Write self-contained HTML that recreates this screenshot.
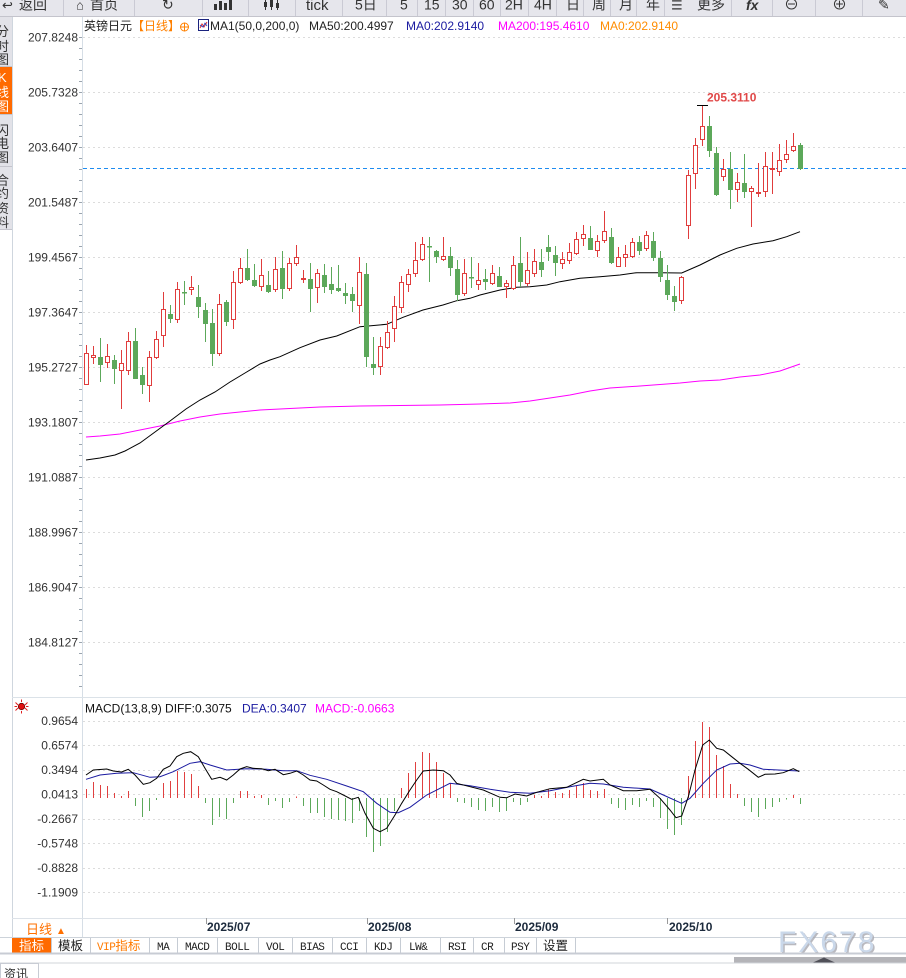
<!DOCTYPE html>
<html><head><meta charset="utf-8">
<style>
html,body{margin:0;padding:0;background:#fff;}
body{width:906px;height:978px;overflow:hidden;}
svg{display:block;font-family:"Liberation Sans","Noto Sans CJK SC",sans-serif;}
.mono{font-family:"Liberation Mono","Noto Sans CJK SC",monospace;}
</style></head><body>
<svg width="906" height="978" viewBox="0 0 906 978" xmlns="http://www.w3.org/2000/svg">
<defs>
<pattern id="tk" patternUnits="userSpaceOnUse" x="0" y="37" width="3" height="11"><rect x="0" y="0" width="3" height="1" fill="#9aa4ae"/></pattern>
</defs>
<!-- toolbar -->
<rect x="0" y="0" width="906" height="16" fill="#e6e6ec"/>
<line x1="0" y1="16.5" x2="906" y2="16.5" stroke="#c4c4cc"/>
<g stroke="#cacad4">
<path d="M63.5 0V16M134.5 0V16M202.5 0V16M248.5 0V16M295.5 0V16M342.5 0V16M386.5 0V16M417.5 0V16M445.5 0V16M473.5 0V16M500.5 0V16M528.5 0V16M556.5 0V16M583.5 0V16M610.5 0V16M636.5 0V16M664.5 0V16M731.5 0V16M772.5 0V16M815.5 0V16M862.5 0V16"/>
</g>
<g fill="#333" font-size="14">
<text x="2" y="9.5" font-size="13">↩</text>
<text x="19" y="9.5">返回</text>
<text x="76" y="9.5" font-size="13">⌂</text>
<text x="90" y="9.5">首页</text>
<text x="162" y="9.5" font-size="14">↻</text>
<text x="306" y="10" font-size="15">tick</text>
<text x="355" y="9.5">5日</text>
<text x="400" y="9.5">5</text>
<text x="424" y="9.5">15</text>
<text x="452" y="9.5">30</text>
<text x="479" y="9.5">60</text>
<text x="505" y="9.5">2H</text>
<text x="534" y="9.5">4H</text>
<text x="566" y="9.5">日</text>
<text x="592" y="9.5">周</text>
<text x="619" y="9.5">月</text>
<text x="646" y="9.5">年</text>
<text x="671" y="9.5" font-size="13">☰</text>
<text x="697" y="9.5">更多</text>
<text x="746" y="10" font-weight="bold" font-style="italic">fx</text>
<text x="784" y="9.5" font-size="15">⊖</text>
<text x="832" y="9.5" font-size="15">⊕</text>
<text x="878" y="9.5" font-size="14">✎</text>
</g>
<g fill="#333">
<rect x="214" y="4" width="3" height="6"/><rect x="219" y="1" width="3" height="9"/><rect x="224" y="3" width="3" height="7"/><rect x="229" y="0" width="3" height="10"/>
<rect x="264" y="2" width="3" height="5"/><rect x="270" y="0" width="3" height="7"/><rect x="276" y="3" width="3" height="5"/>
<path d="M265.5 0V10M271.5 0V10M277.5 0V10" stroke="#333"/>
</g>

<!-- sidebar -->
<rect x="0" y="17" width="12" height="213" fill="#e2e2e8"/>
<rect x="0" y="67" width="12" height="47" fill="#ff6a00"/>
<path d="M0 66.5H12M0 114.5H12M0 166.5H12M0 229.5H12" stroke="#c4c4cc"/>
<line x1="12.5" y1="17" x2="12.5" y2="937" stroke="#cfd6de"/>
<g font-size="13" fill="#333">
<text x="-4" y="36">分</text><text x="-4" y="51">时</text><text x="-4" y="64">图</text>
<text x="-4" y="135">闪</text><text x="-4" y="148">电</text><text x="-4" y="162">图</text>
<text x="-4" y="185">合</text><text x="-4" y="198">约</text><text x="-4" y="213">资</text><text x="-4" y="227">料</text>
</g>
<g font-size="13" fill="#fff">
<text x="-2" y="82">K</text><text x="-4" y="97">线</text><text x="-4" y="111">图</text>
</g>

<!-- axis line -->
<line x1="82.5" y1="17" x2="82.5" y2="937" stroke="#d6dee6"/>
<rect x="79" y="37" width="3" height="655" fill="url(#tk)"/>

<!-- grid main -->
<g stroke="#dcdcdc" stroke-dasharray="2,3">
<path d="M83 37.5H906M83 92.5H906M83 147.5H906M83 202.5H906M83 257.5H906M83 312.5H906M83 367.5H906M83 422.5H906M83 477.5H906M83 532.5H906M83 587.5H906M83 642.5H906"/>
</g>
<g font-size="12" fill="#333" text-anchor="end">
<text x="78" y="41.5">207.8248</text>
<text x="78" y="96.5">205.7328</text>
<text x="78" y="151.5">203.6407</text>
<text x="78" y="206.5">201.5487</text>
<text x="78" y="261.5">199.4567</text>
<text x="78" y="316.5">197.3647</text>
<text x="78" y="371.5">195.2727</text>
<text x="78" y="426.5">193.1807</text>
<text x="78" y="481.5">191.0887</text>
<text x="78" y="536.5">188.9967</text>
<text x="78" y="591.5">186.9047</text>
<text x="78" y="646.5">184.8127</text>
</g>

<!-- legend -->
<g font-size="12">
<text x="84" y="30" fill="#222">英镑日元</text>
<text x="132" y="30" fill="#ff8000">【日线】</text>
<text x="210" y="30" fill="#222">MA1(50,0,200,0)</text>
<text x="309" y="30" fill="#222">MA50:200.4997</text>
<text x="406" y="30" fill="#1a1aa0">MA0:202.9140</text>
<text x="498" y="30" fill="#ff00ff">MA200:195.4610</text>
<text x="600" y="30" fill="#ff8c00">MA0:202.9140</text>
</g>
<circle cx="184.5" cy="27" r="4" fill="none" stroke="#ff8000"/>
<path d="M180 27H189M184.5 22.5V31.5" stroke="#ff8000"/>
<rect x="198.5" y="19.5" width="10" height="11" fill="#fff" stroke="#1a237e"/>
<polyline points="200,28 202,24 204,27 207,22" fill="none" stroke="#e03030"/>
<polyline points="200,25 203,27 205,23 207,26" fill="none" stroke="#2040c0" stroke-width="0.8"/>

<!-- current price dashed line -->
<line x1="83" y1="168.5" x2="906" y2="168.5" stroke="#1e8cf0" stroke-dasharray="4,3"/>

<!-- MA200 -->
<polyline fill="none" stroke="#ff00ff" stroke-width="1" points="86,437 100,436 120,434 140,430 160,426 180,421 200,417 220,414 240,412 260,410 280,409 320,407 360,406 400,405.5 440,405 480,404 510,403 530,401 550,398 570,395 590,391 610,388 640,386 680,383 700,381 720,380 740,377 760,375 780,371 800,364"/>
<!-- MA50 -->
<polyline fill="none" stroke="#000" stroke-width="1" points="86,460 100,458 115,455 125,451 140,443 155,432 170,421 186,409 200,400 215,392 230,382 245,373 260,364 270,360 280,356.7 300,347.7 320,340 336.7,336 360,326.7 386.7,324.3 403,317.3 423,310 443,305 456.7,300.7 470,298.3 480,295 500,290 516.7,287.3 530,286.7 546.7,285 560,281.7 580,278.3 600,276.7 620,275 636.7,272.7 660,272.7 681.7,273 700,265 720,255 736.7,248.3 753,244 773,240.7 786.7,236.7 800,231.7"/>

<!-- candles: red wicks -->
<path fill="none" stroke="#e03c3c" d="M86.5 345V385M93.5 346V364M107.5 344V368M121.5 350V409M128.5 332V375M149.5 351V402M156.5 331V359M163.5 292V347M177.5 282V323M191.5 276V295M219.5 294V356M233.5 271V329M240.5 258V284M261.5 259V291M275.5 257V292M289.5 258V291M296.5 245V266M303.5 270V283M317.5 269V303M359.5 257V324M380.5 337V375M387.5 321V349M394.5 296V342M401.5 276V313M408.5 269V292M415.5 242V277M422.5 237V261M443.5 237V261M464.5 259V296M478.5 263V290M492.5 265V285M506.5 280V298M513.5 256V290M527.5 252V286M534.5 249V277M562.5 252V269M569.5 243V264M576.5 232V255M583.5 225V246M597.5 235V257M604.5 211V243M618.5 247V267M625.5 245V267M632.5 238V258M646.5 231V251M681.5 276V304M688.5 170V239M695.5 138V189M702.5 105V146M723.5 159V181M737.5 173V202M751.5 186V227M758.5 163V197M765.5 152V197M772.5 152V194M779.5 144V176M786.5 140V163M793.5 133V152"/>
<g fill="#fff" stroke="#e03c3c" stroke-width="1">
<rect x="84.5" y="353.5" width="4" height="31"/>
<rect x="91.5" y="355.5" width="4" height="2"/>
<rect x="105.5" y="356.5" width="4" height="6"/>
<rect x="119.5" y="363.5" width="4" height="7"/>
<rect x="126.5" y="341.5" width="4" height="29"/>
<rect x="147.5" y="357.5" width="4" height="28"/>
<rect x="154.5" y="339.5" width="4" height="18"/>
<rect x="161.5" y="309.5" width="4" height="26"/>
<rect x="175.5" y="289.5" width="4" height="30"/>
<rect x="189.5" y="287.5" width="4" height="2"/>
<rect x="217.5" y="304.5" width="4" height="49"/>
<rect x="231.5" y="282.5" width="4" height="37"/>
<rect x="238.5" y="268.5" width="4" height="14"/>
<rect x="259.5" y="275.5" width="4" height="11"/>
<rect x="273.5" y="269.5" width="4" height="20"/>
<rect x="287.5" y="263.5" width="4" height="25"/>
<rect x="294.5" y="257.5" width="4" height="6"/>
<rect x="301.5" y="278.5" width="4" height="1"/>
<rect x="315.5" y="273.5" width="4" height="14"/>
<rect x="357.5" y="272.5" width="4" height="33"/>
<rect x="378.5" y="346.5" width="4" height="20"/>
<rect x="385.5" y="332.5" width="4" height="15"/>
<rect x="392.5" y="306.5" width="4" height="22"/>
<rect x="399.5" y="282.5" width="4" height="25"/>
<rect x="406.5" y="274.5" width="4" height="10"/>
<rect x="413.5" y="260.5" width="4" height="13"/>
<rect x="420.5" y="244.5" width="4" height="15"/>
<rect x="441.5" y="256.5" width="4" height="3"/>
<rect x="462.5" y="273.5" width="4" height="20"/>
<rect x="476.5" y="280.5" width="4" height="4"/>
<rect x="490.5" y="273.5" width="4" height="10"/>
<rect x="504.5" y="283.5" width="4" height="3"/>
<rect x="511.5" y="265.5" width="4" height="23"/>
<rect x="525.5" y="270.5" width="4" height="13"/>
<rect x="532.5" y="261.5" width="4" height="12"/>
<rect x="560.5" y="259.5" width="4" height="4"/>
<rect x="567.5" y="252.5" width="4" height="8"/>
<rect x="574.5" y="239.5" width="4" height="14"/>
<rect x="581.5" y="234.5" width="4" height="4"/>
<rect x="595.5" y="241.5" width="4" height="9"/>
<rect x="602.5" y="231.5" width="4" height="9"/>
<rect x="616.5" y="257.5" width="4" height="9"/>
<rect x="623.5" y="254.5" width="4" height="3"/>
<rect x="630.5" y="242.5" width="4" height="14"/>
<rect x="644.5" y="235.5" width="4" height="13"/>
<rect x="679.5" y="277.5" width="4" height="23"/>
<rect x="686.5" y="175.5" width="4" height="50"/>
<rect x="693.5" y="145.5" width="4" height="28"/>
<rect x="700.5" y="126.5" width="4" height="13"/>
<rect x="721.5" y="169.5" width="4" height="7"/>
<rect x="735.5" y="182.5" width="4" height="7"/>
<rect x="749.5" y="188.5" width="4" height="3"/>
<rect x="756.5" y="192.5" width="4" height="1"/>
<rect x="763.5" y="166.5" width="4" height="25"/>
<rect x="770.5" y="168.5" width="4" height="1"/>
<rect x="777.5" y="160.5" width="4" height="11"/>
<rect x="784.5" y="154.5" width="4" height="5"/>
<rect x="791.5" y="146.5" width="4" height="4"/>
</g>
<!-- green candles -->
<path fill="none" stroke="#5ca85a" d="M100.5 338V382M114.5 355V384M135.5 328V379M142.5 367V394M170.5 305V323M184.5 281V305M198.5 285V318M205.5 303V342M212.5 309V366M226.5 300V326M247.5 249V281M254.5 264V287M268.5 271V293M282.5 251V299M310.5 263V312M324.5 264V293M331.5 267V294M338.5 265V292M345.5 283V304M352.5 287V312M366.5 263V367M373.5 337V375M429.5 237V282M436.5 250V263M450.5 247V276M457.5 260V301M471.5 257V288M485.5 269V290M499.5 267V287M520.5 237V287M541.5 249V277M548.5 235V261M555.5 246V276M590.5 226V250M611.5 228V264M639.5 236V255M653.5 232V261M660.5 251V282M667.5 265V300M674.5 286V311M709.5 116V157M716.5 147V196M730.5 152V209M744.5 154V198M800.5 143V170"/>
<g fill="#5ca85a">
<rect x="98" y="357" width="5" height="8"/>
<rect x="112" y="360" width="5" height="9"/>
<rect x="133" y="341" width="5" height="38"/>
<rect x="140" y="375" width="5" height="10"/>
<rect x="168" y="314" width="5" height="5"/>
<rect x="182" y="292" width="5" height="1.5"/>
<rect x="196" y="297" width="5" height="10"/>
<rect x="203" y="310" width="5" height="14"/>
<rect x="210" y="323" width="5" height="31"/>
<rect x="224" y="302" width="5" height="20"/>
<rect x="245" y="268" width="5" height="12"/>
<rect x="252" y="280" width="5" height="6"/>
<rect x="266" y="285" width="5" height="7"/>
<rect x="280" y="268" width="5" height="21"/>
<rect x="308" y="279" width="5" height="10"/>
<rect x="322" y="275" width="5" height="12"/>
<rect x="329" y="284" width="5" height="6"/>
<rect x="336" y="288" width="5" height="3"/>
<rect x="343" y="293" width="5" height="3"/>
<rect x="350" y="294" width="5" height="7"/>
<rect x="364" y="274" width="5" height="83"/>
<rect x="371" y="364" width="5" height="4"/>
<rect x="427" y="246" width="5" height="1.5"/>
<rect x="434" y="251" width="5" height="6"/>
<rect x="448" y="256" width="5" height="12"/>
<rect x="455" y="269" width="5" height="26"/>
<rect x="469" y="277" width="5" height="1.5"/>
<rect x="483" y="279" width="5" height="3"/>
<rect x="497" y="276" width="5" height="11"/>
<rect x="518" y="263" width="5" height="19"/>
<rect x="539" y="262" width="5" height="8"/>
<rect x="546" y="247" width="5" height="5"/>
<rect x="553" y="255" width="5" height="8"/>
<rect x="588" y="238" width="5" height="12"/>
<rect x="609" y="237" width="5" height="26"/>
<rect x="637" y="242" width="5" height="9"/>
<rect x="651" y="241" width="5" height="17"/>
<rect x="658" y="258" width="5" height="19"/>
<rect x="665" y="280" width="5" height="15"/>
<rect x="672" y="296" width="5" height="6"/>
<rect x="707" y="126" width="5" height="25"/>
<rect x="714" y="153" width="5" height="42"/>
<rect x="728" y="169" width="5" height="21"/>
<rect x="742" y="183" width="5" height="9"/>
<rect x="798" y="145" width="5" height="24"/>
</g>
<!-- max marker -->
<path d="M697 105.5H708" stroke="#000"/>
<text x="707" y="101.5" font-size="12" font-weight="bold" fill="#e04848">205.3110</text>

<!-- MACD panel -->
<line x1="12" y1="697.5" x2="906" y2="697.5" stroke="#dbe2e8"/>
<g stroke="#e02020" stroke-width="1">
<path d="M15.5 702.5L18 705M27.5 702.5L25 705M15.5 710.5L18 708M27.5 710.5L25 708M21.5 699.5V702M21.5 713.5V711M14.5 706.5H17M28.5 706.5H26"/>
</g>
<circle cx="21.5" cy="706.5" r="3.2" fill="#e01010" stroke="#600" stroke-width="0.8"/>
<g font-size="12">
<text x="85" y="712.5" fill="#111">MACD(13,8,9) DIFF:0.3075</text>
<text x="242" y="712.5" fill="#1a1aa0">DEA:0.3407</text>
<text x="315" y="712.5" fill="#ff00ff">MACD:-0.0663</text>
</g>
<g stroke="#dcdcdc" stroke-dasharray="2,3">
<path d="M83 721.5H906M83 745.5H906M83 770.5H906M83 794.5H906M83 819.5H906M83 843.5H906M83 868.5H906M83 892.5H906"/>
</g>
<g font-size="12" fill="#333" text-anchor="end">
<text x="78" y="725">0.9654</text>
<text x="78" y="749.5">0.6574</text>
<text x="78" y="774">0.3494</text>
<text x="78" y="798.5">0.0413</text>
<text x="78" y="823">-0.2667</text>
<text x="78" y="847.5">-0.5748</text>
<text x="78" y="872">-0.8828</text>
<text x="78" y="896.5">-1.1909</text>
</g>
<!-- histogram red -->
<path fill="none" stroke="#e04040" d="M86.5 798V789M93.5 798V782M100.5 798V785M107.5 798V786M114.5 798V793M121.5 798V796M128.5 798V791M163.5 798V783M170.5 798V781M177.5 798V771M184.5 798V772M191.5 798V774M198.5 798V786M240.5 798V791M247.5 798V791M254.5 798V796M261.5 798V795M296.5 798V796.5M401.5 798V788M408.5 798V773M415.5 798V762M422.5 798V752M429.5 798V753M436.5 798V762M443.5 798V773M450.5 798V783M534.5 798V795M541.5 798V796M548.5 798V789M555.5 798V792M562.5 798V793M569.5 798V790M576.5 798V786M583.5 798V783M590.5 798V790M597.5 798V791M604.5 798V789M688.5 798V776M695.5 798V741M702.5 798V722M709.5 798V727M716.5 798V755M723.5 798V766M730.5 798V784M737.5 798V794M793.5 798V795"/>
<!-- histogram green -->
<path fill="none" stroke="#5ca85a" d="M135.5 798V806M142.5 798V817M149.5 798V811M156.5 798V800M205.5 798V803M212.5 798V825M219.5 798V817M226.5 798V819M233.5 798V803M268.5 798V805M275.5 798V801M282.5 798V808M289.5 798V802M303.5 798V806M310.5 798V813M317.5 798V813M324.5 798V817M331.5 798V819M338.5 798V820M345.5 798V821M352.5 798V823M359.5 798V811M366.5 798V837M373.5 798V852M380.5 798V846M387.5 798V832M394.5 798V811M457.5 798V802M464.5 798V803M471.5 798V807M478.5 798V810M485.5 798V811M492.5 798V807M499.5 798V812M506.5 798V811M513.5 798V802M520.5 798V805M527.5 798V802M611.5 798V804M618.5 798V808M625.5 798V810M632.5 798V805M639.5 798V807M646.5 798V801M653.5 798V807M660.5 798V818M667.5 798V829M674.5 798V835M681.5 798V825M744.5 798V806M751.5 798V812M758.5 798V817M765.5 798V809M772.5 798V807M779.5 798V802M786.5 798V799.5M800.5 798V804"/>
<!-- DEA -->
<polyline fill="none" stroke="#1a1aa0" stroke-width="1" points="86,779.3 100,775 116.7,773.3 133.3,772.7 150,777.3 160,776.7 173.3,771.7 190,763.3 200,761.7 210,765 226.7,770 246.7,768.7 266.7,769.3 283.3,770.7 296.7,770.7 310,775.3 326.7,779.3 346.7,786 363.3,791.7 376.7,803.3 390,812.3 398.3,812.7 410,807.3 426.7,795 443.3,786.7 450,783.3 470,785.7 490,789.3 510,792.3 530,793.3 550,790.7 570,786.7 590,783.3 603.3,784 623.3,787.3 650,789 663.3,795 681.7,803.3 690,798.3 703.3,783.3 716.7,770 730,764 740,763.3 750,765 763.3,769.3 783.3,770.3 799.3,771"/>
<!-- DIFF -->
<polyline fill="none" stroke="#000" stroke-width="1" points="86,775 93.3,770 106.7,769 113.3,771 121.7,772 128.3,769.3 135,775 143.3,784.3 150,782.7 156.7,778.3 163.3,769.3 170,766 176.7,756.7 183.3,753.3 190.7,751.7 198.3,756.7 205,768.3 211.7,779.3 220,777.3 226.7,780 233.3,775 240,769 246.7,766.7 253.3,768.3 261.7,768.7 268.3,770.7 275,769.3 283.3,774.7 290,773.3 296.7,771 303.3,775 310,780 316.7,781 323.3,785 330,789.3 336.7,791.7 343.3,795 351.7,799.3 358.3,797.3 365,813.3 373.3,828.3 380,831.7 386.7,828.3 395,815 401.7,803.3 410,790 416.7,780 423.3,771 433.3,770 443.3,770.7 450,775 456.7,783.3 470,786.7 483.3,790 500,797.3 506.7,797.7 515,794 526.7,796 536.7,792.3 550,788.7 566.7,787.3 583.3,779.3 590,781 603.3,779.3 610,785 623.3,790.7 636.7,790.7 650,789.3 660,798.3 670,810 676,817.7 681.7,816 688.3,796.7 695,770 702.7,745 709.3,740 716.7,748.3 723.3,750 731.7,756.7 740,763.3 748.3,769.3 758.3,777.3 765,774.3 775,774 783.3,772.7 793.3,768.7 799.3,771.7"/>

<!-- x axis row -->
<line x1="12" y1="918.5" x2="906" y2="918.5" stroke="#dde2e8"/>
<line x1="0" y1="937.5" x2="906" y2="937.5" stroke="#cdd3da"/>
<path d="M206.5 918V924M367.5 918V924M514.5 918V924M667.5 918V924" stroke="#999"/>
<g font-size="12" font-weight="bold" fill="#1c2a3c">
<text x="207" y="931">2025/07</text>
<text x="368" y="931">2025/08</text>
<text x="515" y="931">2025/09</text>
<text x="669" y="931">2025/10</text>
</g>
<text x="26" y="934" font-size="13" fill="#ff7000">日线</text>
<text x="56" y="934" font-size="10" fill="#ff7000">▲</text>

<!-- watermark -->
<text x="779.5" y="953.5" font-size="30" fill="#a8a8b0" letter-spacing="2" opacity="0.8">FX678</text>
<text x="778" y="952" font-size="30" fill="#cad8ea" letter-spacing="2">FX678</text>

<!-- tab bar -->
<rect x="12" y="938" width="39" height="15" fill="#ff6a00"/>
<g fill="none" stroke="#c6ccd4">
<path d="M51.5 938V953M90.5 938V953M149.5 938V953M177.5 938V953M217.5 938V953M258.5 938V953M292.5 938V953M332.5 938V953M366.5 938V953M400.5 938V953M440.5 938V953M473.5 938V953M504.5 938V953M536.5 938V953M575.5 938V953"/>
</g>
<g font-size="12.5">
<text x="19" y="950" fill="#fff">指标</text>
<text x="58" y="950" fill="#222">模板</text>
</g>
<g class="mono" font-size="11" fill="#222" letter-spacing="-0.5">
<text x="97" y="950" fill="#ff7a00">VIP<tspan font-family="Noto Sans CJK SC" font-size="12.5" letter-spacing="0">指标</tspan></text>
<text x="157" y="950">MA</text>
<text x="185" y="950">MACD</text>
<text x="225" y="950">BOLL</text>
<text x="266" y="950">VOL</text>
<text x="300" y="950">BIAS</text>
<text x="340" y="950">CCI</text>
<text x="374" y="950">KDJ</text>
<text x="409" y="950">LW&amp;</text>
<text x="448" y="950">RSI</text>
<text x="481" y="950">CR</text>
<text x="511" y="950">PSY</text>
</g>
<text x="543" y="950" font-size="12.5" fill="#222">设置</text>
<rect x="0" y="952.5" width="906" height="2" fill="#c8ccd4"/>
<rect x="734" y="957" width="172" height="6" fill="#b4b4b8"/>
<polygon points="813,962.5 824,957.5 835,962.5" fill="#505058"/>
<line x1="0" y1="963" x2="906" y2="963" stroke="#d0d4da"/>
<rect x="0.5" y="963.5" width="38" height="16" fill="#fff" stroke="#c8ccd4"/>
<text x="4" y="978" font-size="12" fill="#333">资讯</text>
</svg>
</body></html>
